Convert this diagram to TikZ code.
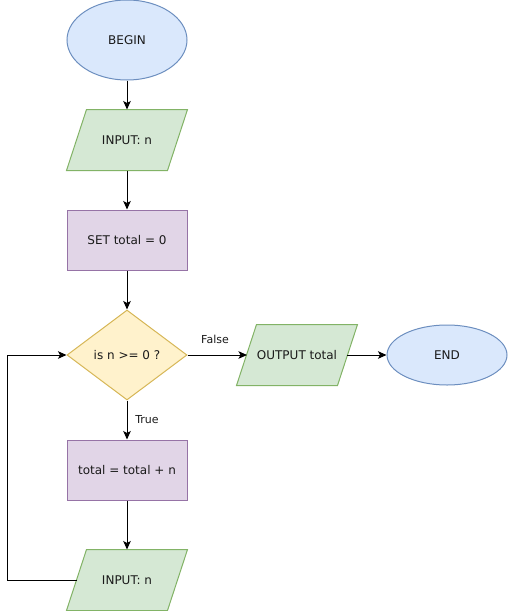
\documentclass[tikz,border=0pt]{standalone}
\usepackage{fontspec}
\setmainfont{DejaVu Sans}
\usetikzlibrary{shapes.geometric,arrows.meta}
\definecolor{bluefill}{HTML}{DAE8FC}\definecolor{bluedraw}{HTML}{6C8EBF}
\definecolor{greenfill}{HTML}{D5E8D4}\definecolor{greendraw}{HTML}{82B366}
\definecolor{purplefill}{HTML}{E1D5E7}\definecolor{purpledraw}{HTML}{9673A6}
\definecolor{yellowfill}{HTML}{FFF2CC}\definecolor{yellowdraw}{HTML}{D6B656}
\definecolor{txt}{HTML}{1A1A1A}
\tikzset{
  base/.style={inner sep=0pt, line width=1pt, text=txt, font=\fontsize{12}{14}\selectfont},
  terminal/.style={base, ellipse, draw=bluedraw, fill=bluefill, minimum width=120pt, minimum height=80pt},
  terminalsm/.style={terminal, minimum height=60pt},
  iobase/.style={base, rectangle, minimum width=120pt, minimum height=60pt},
  iofill/.style={fill=greenfill, draw=greendraw, line width=1pt},
  process/.style={base, rectangle, draw=purpledraw, fill=purplefill, minimum width=120pt, minimum height=60pt},
  decision/.style={base, diamond, draw=yellowdraw, fill=yellowfill, minimum width=120pt, minimum height=90pt},
  flow/.style={line width=1pt, -{Stealth[length=8.5pt,width=7.5pt,inset=2pt]}},
  edgelabel/.style={font=\fontsize{11}{13}\selectfont, text=txt, inner sep=0pt}
}
% input/output box: parallelogram inside the frame of node #1, slanted by 20, with text #2
\newcommand{\iobox}[2]{%
  \path[iofill] ([xshift=20pt]#1.north west) -- (#1.north east)
    -- ([xshift=-20pt]#1.south east) -- (#1.south west) -- cycle;
  \node[base] at (#1) {#2};}
\begin{document}
\begin{tikzpicture}[x=1pt,y=-1pt]
\useasboundingbox (0,0) rectangle (508,611);
\node[terminal] (begin) at (127,40) {BEGIN};
\node[iobase] (in1) at (127,140) {};
\node[process] (set) at (127,240) {SET total = 0};
\node[decision] (dec) at (127,355) {is n >= 0 ?};
\node[iobase] (out) at (297,355) {};
\node[terminalsm] (end) at (447,355) {END};
\node[process] (upd) at (127,470) {total = total + n};
\node[iobase] (in2) at (127,580) {};
\iobox{in1}{INPUT: n}
\iobox{out}{OUTPUT total}
\iobox{in2}{INPUT: n}
% points where connectors meet the slanted sides
\coordinate (outin) at (247,355);
\coordinate (outout) at (347,355);
\coordinate (in2out) at (77,580);
\coordinate (loop) at (7,580);

\draw[flow] (begin) -- (in1);
\draw[flow] (in1) -- (set);
\draw[flow] (set) -- (dec);
\draw[flow] (dec) -- (outin);
\draw[flow] (outout) -- (end);
\draw[flow] (dec) -- (upd);
\draw[flow] (upd) -- (in2);
\draw[flow] (in2out) -- (loop) |- (dec.west);

\node[edgelabel] (lblfalse) at (215,339) {False};
\node[edgelabel] (lbltrue) at (147,420) {True};
\end{tikzpicture}
\end{document}
